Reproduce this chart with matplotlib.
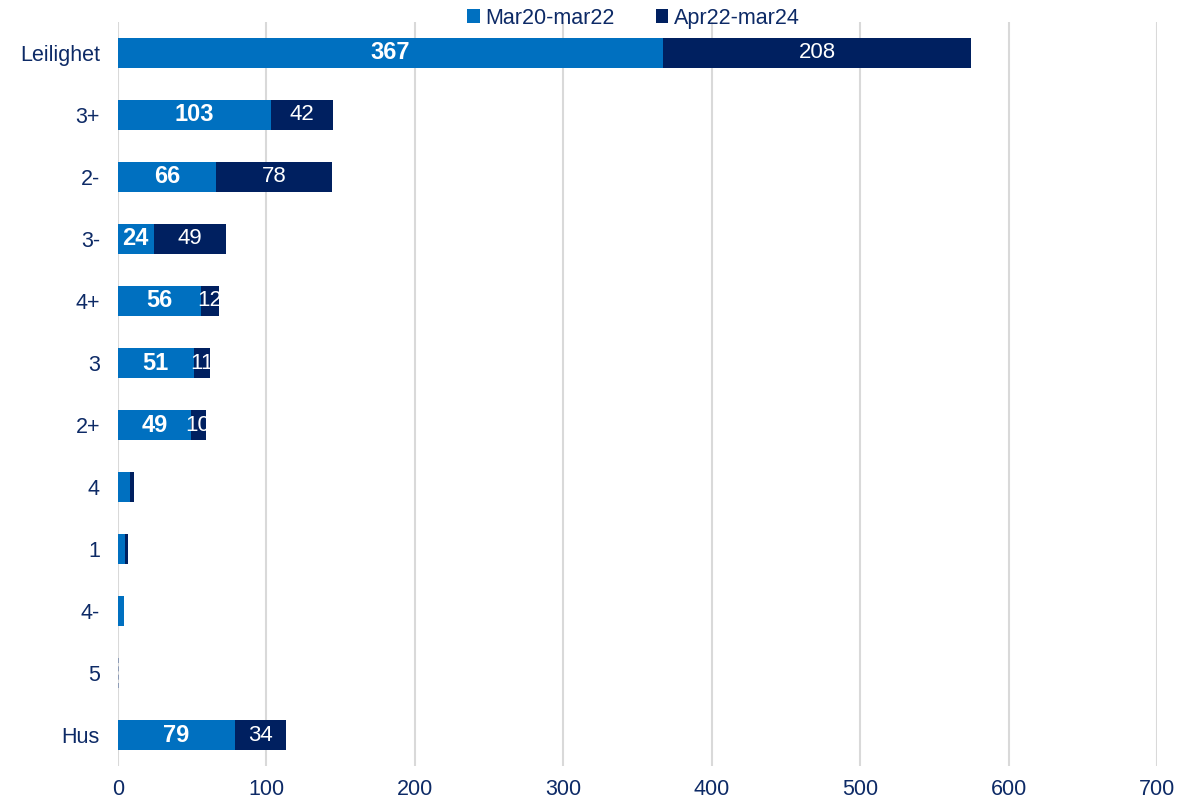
import numpy as np
import matplotlib.pyplot as plt

plt.rcParams['font.family'] = ['Liberation Sans', 'DejaVu Sans']

# Categories listed top to bottom
categories = ["Leilighet", "3+", "2-", "3-", "4+", "3", "2+", "4", "1", "4-", "5", "Hus"]
mar20_mar22 = [367, 103, 66, 24, 56, 51, 49, 8, 5, 4, 0, 79]
apr22_mar24 = [208, 42, 78, 49, 12, 11, 10, 3, 2, 0, 0, 34]

light = "#0070C0"
dark = "#002060"
text_col = "#0D2A66"

fig = plt.figure(figsize=(11.99, 8.05), dpi=100)
ax = fig.add_axes([0.0984, 0.0484, 0.8666, 0.9243])

y = np.arange(len(categories))
h = 0.49
ax.barh(y, mar20_mar22, height=h, color=light, label="Mar20-mar22", zorder=3)
ax.barh(y, apr22_mar24, left=mar20_mar22, height=h, color=dark,
        label="Apr22-mar24", zorder=3)

# the empty "5" row shows only a faint dashed stub at zero
ax.plot([0.3, 0.3], [10 - h / 2, 10 + h / 2], color="#8090B0", lw=1.2,
        ls=(0, (3, 2)), zorder=4)

for i, (a, b) in enumerate(zip(mar20_mar22, apr22_mar24)):
    if a >= 20:
        ax.text(a / 2, i, str(a), ha="center", va="center", color="white",
                fontsize=17, fontweight="bold", zorder=5)
    if b >= 10:
        ax.text(a + b / 2, i, str(b), ha="center", va="center", color="white",
                fontsize=16, zorder=5)

ax.set_xlim(0, 700)
ax.set_ylim(len(categories) - 0.5, -0.5)
ax.set_xticks(range(0, 701, 100))
ax.set_yticks(y)
ax.set_yticklabels(categories)
ax.tick_params(axis="both", length=0, labelsize=15.5, labelcolor=text_col)
ax.tick_params(axis="y", pad=13)
ax.tick_params(axis="x", pad=9)
ax.grid(axis="x", color="#D9D9D9", lw=1.5, zorder=0)
for s in ax.spines.values():
    s.set_visible(False)

ax.legend(loc="upper center", bbox_to_anchor=(0.496, 1.031), ncol=2, frameon=False,
          fontsize=15.5, labelcolor=text_col, handlelength=0.6, handleheight=0.6,
          handletextpad=0.25, columnspacing=1.9, borderaxespad=0)

fig.savefig("out.png", dpi=100)
